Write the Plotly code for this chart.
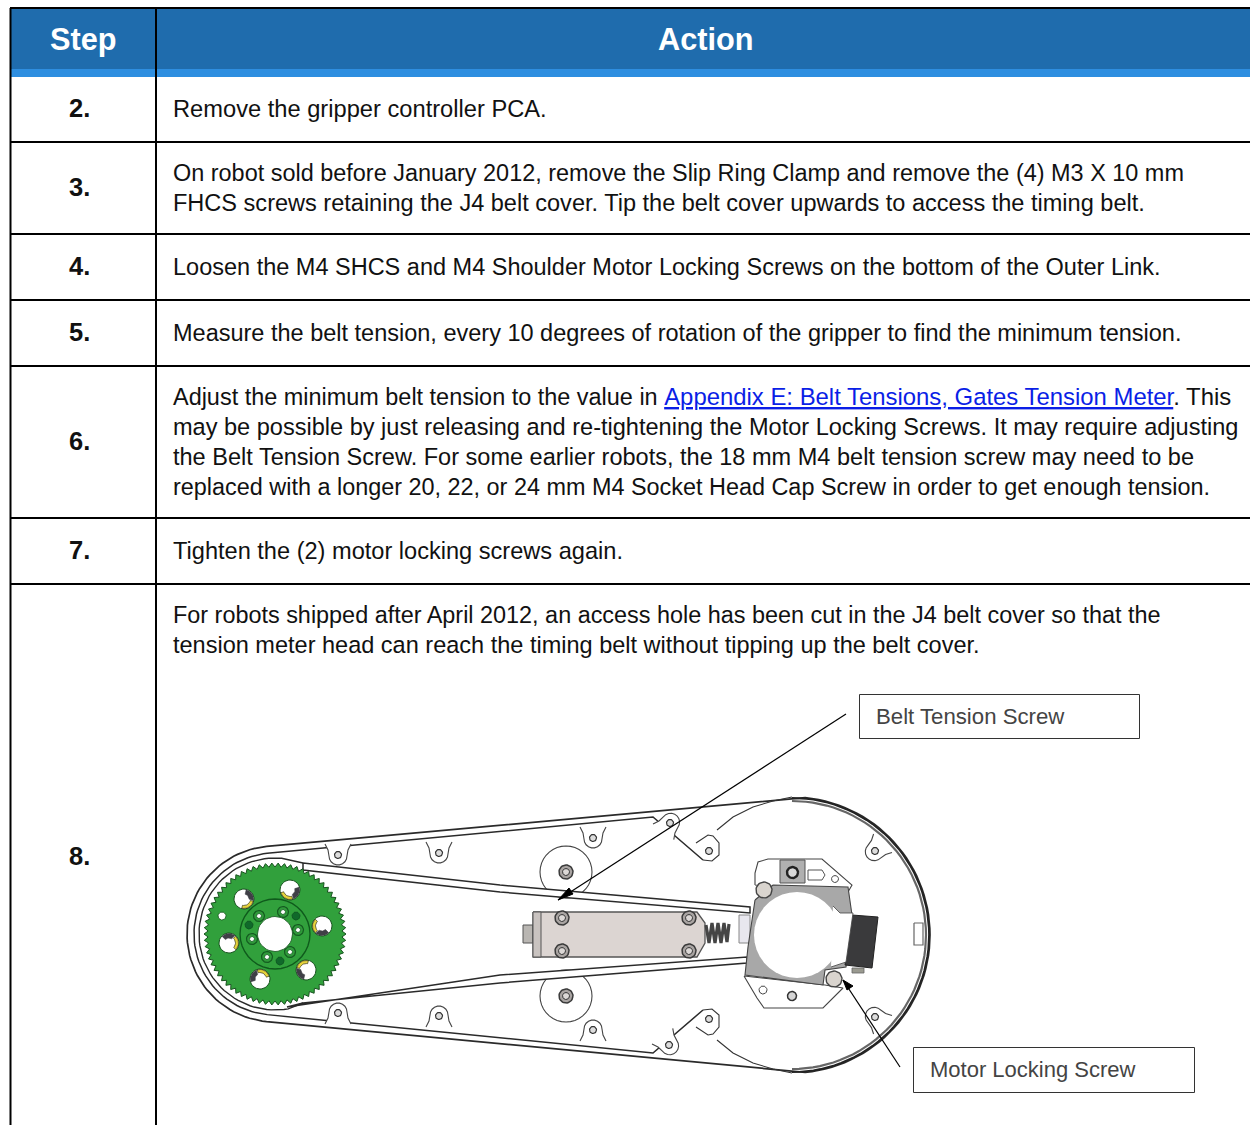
import math
import plotly.graph_objects as go

W, H = 1250, 1125
FONT = "Liberation Sans"

# ---------- table content ----------
header_labels = ["Step", "Action"]
step_labels = ["2.", "3.", "4.", "5.", "6.", "7.", "8."]
step_centres = [108, 187, 266, 332, 441, 550, 856]
row_rules = [142, 234, 300, 366, 518, 584]
action_lines = [
    "Remove the gripper controller PCA.",
    "On robot sold before January 2012, remove the Slip Ring Clamp and remove the (4) M3 X 10 mm",
    "FHCS screws retaining the J4 belt cover. Tip the belt cover upwards to access the timing belt.",
    "Loosen the M4 SHCS and M4 Shoulder Motor Locking Screws on the bottom of the Outer Link.",
    "Measure the belt tension, every 10 degrees of rotation of the gripper to find the minimum tension.",
    '<span style="font-size:23.45px">Adjust the minimum belt tension to the value in </span><span style="color:#0a1ee6"><u>Appendix E: Belt Tensions, Gates Tension Meter</u></span>. This',
    "may be possible by just releasing and re-tightening the Motor Locking Screws. It may require adjusting",
    "the Belt Tension Screw. For some earlier robots, the 18 mm M4 belt tension screw may need to be",
    "replaced with a longer 20, 22, or 24 mm M4 Socket Head Cap Screw in order to get enough tension.",
    "Tighten the (2) motor locking screws again.",
    "For robots shipped after April 2012, an access hole has been cut in the J4 belt cover so that the",
    "tension meter head can reach the timing belt without tipping up the belt cover.",
]
action_line_y = [108.7, 172.7, 202.7, 266.7, 332.7, 396, 426.7, 456.7, 486.7, 550.7, 614.7, 644.7]
action_line_size = [23.68, 23.44, 23.54, 23.5, 23.5, 23.9, 23.56, 23.54, 23.41, 23.58, 23.41, 23.53]
callouts = ["Belt Tension Screw", "Motor Locking Screw"]

# ---------- drawing geometry ----------
gear_holes = [(244, 899), (290, 890), (322, 926), (229, 943), (260, 979), (306, 970)]
gear_bolts = [(259, 916), (283, 912), (298, 930), (290, 952), (267, 957), (252, 939)]
gear_dark = [(296, 916), (249, 925), (280, 961)]
lugs = [(338, 855, 0), (439, 853, 0), (593, 838, 0), (670, 823, 217),
        (875, 851, 45), (338, 1013, 180), (439, 1016, 180), (593, 1030, 180),
        (669, 1045, 323), (875, 1017, 135)]
belt_top = [(303, 863), (500, 885), (750, 907), (750, 913), (500, 892), (303, 870)]
belt_bottom = [(287, 1007), (500, 975), (747, 957), (747, 963), (500, 983), (303, 1003)]
block_outline = [(533, 912), (697, 912), (705, 923), (705, 943), (697, 957), (533, 957)]
block_bolts = [(562, 918), (689, 918), (562, 951), (689, 951)]
plate_outline = [(755, 900), (773, 885), (848, 887), (852, 915), (846, 967), (825, 970),
                 (823, 985), (745, 975), (748, 947)]
top_bracket = [(755, 885), (755, 873), (758, 862), (768, 859), (822, 859), (852, 885), (848, 892)]
bottom_bracket = [(744, 976), (757, 998), (764, 1008), (823, 1008), (843, 988), (825, 985)]
motor_box = [(852, 915), (878, 917), (872, 968), (845, 965)]
spring_x = [706, 709, 712, 715, 718, 721, 724, 727, 729]
spring_y = [925, 943, 923, 943, 923, 943, 923, 942, 924]
ring_shoulder = [(717, 830), (733, 817), (753, 807), (773, 801), (792, 797)]

fig = go.Figure()


def poly(pts, fill=None, line="#222222", width=1.2, close=True):
    xs = [p[0] for p in pts]
    ys = [p[1] for p in pts]
    if close:
        xs, ys = xs + xs[:1], ys + ys[:1]
    fig.add_trace(go.Scatter(
        x=xs, y=ys, mode="lines", hoverinfo="skip", showlegend=False,
        fill="toself" if fill else None, fillcolor=fill,
        line=dict(color=line, width=width, shape="linear"),
    ))


def arc(cx, cy, r, a0, a1, n=60):
    return [(cx + r * math.cos(math.radians(a0 + (a1 - a0) * i / n)),
             cy + r * math.sin(math.radians(a0 + (a1 - a0) * i / n))) for i in range(n + 1)]


def circle(cx, cy, r, fill="#ffffff", line="#222222", width=1.2):
    poly(arc(cx, cy, r, 0, 360, 36)[:-1], fill, line, width)


def bolt(cx, cy, r=7):
    circle(cx, cy, r, "#a9a4a2", "#3a3a3a", 1.5)
    circle(cx, cy, r * 0.5, "#dcd8d6", "#333333", 1)


def mirror(pts, c=935):
    return [(x, 2 * c - y) for x, y in pts]


# ----- belt cover, outer loop -----
outer = arc(275, 934, 88, 264.5, 95.5) + arc(792, 935, 138, 84.5, -84.5)
poly(outer[:], None, "#2a2a2a", 1.7)
inner_top = [(653, 817), (703, 860)]
inner_left = arc(275, 934, 81, 95.5, 264.5)
poly(mirror(inner_top)[::-1] + inner_left + inner_top, None, "#2a2a2a", 1.5, close=False)
poly(arc(792, 935, 134, -90, 90, 60), None, "#666666", 2.2, close=False)
poly(arc(792, 935, 137, -90, 90, 60), None, "#222222", 1.8, close=False)
poly(ring_shoulder, None, "#333333", 1.1, close=False)
poly(mirror(ring_shoulder), None, "#333333", 1.1, close=False)
for sign in (1, -1):
    c = [(703, 860), (712, 861), (719, 855), (719, 843), (713, 836), (708, 835), (696, 843)]
    poly(c if sign == 1 else mirror(c), None, "#333333", 1.1, close=False)
    circle(709, 935 + sign * -84, 3.5, "#dddddd", "#333333", 1.2)

# ----- lugs -----
for cx, cy, rot in lugs:
    t = math.radians(rot)
    shape = [(-13, -11), (-10, -5)] + [(9 * math.cos(math.radians(a)), 9 * math.sin(math.radians(a)) + 1)
                                       for a in range(180, -1, -20)] + [(10, -5), (13, -11)]
    pts = [(cx + x * math.cos(t) - y * math.sin(t), cy + x * math.sin(t) + y * math.cos(t)) for x, y in shape]
    poly(pts, "#ffffff", "#444444", 1.1, close=False)
    circle(cx, cy, 3.5, "#dddddd", "#333333", 1.2)

# ----- idler pulleys -----
for cy in (872, 996):
    circle(566, cy, 26, "#ffffff", "#444444", 1.1)
    bolt(566, cy, 7)

# ----- timing belt -----
poly(belt_top, "#ffffff", "#2a2a2a", 1.5)
poly(belt_bottom, "#ffffff", "#2a2a2a", 1.5)
poly([(303, 1003)] + arc(275, 934, 76, 80, 275) + [(303, 863)], None, "#2a2a2a", 1.4, close=False)

# ----- gear -----
teeth = []
for i in range(140):
    a = 2 * math.pi * i / 140
    r = 71 if i % 2 == 0 else 67
    teeth.append((275 + r * math.cos(a), 934 + r * math.sin(a)))
poly(teeth, "#31a03c", "#17521e", 1)
circle(275, 934, 35, "#31a03c", "#0f5a1c", 1.4)
for hx, hy in gear_holes:
    circle(hx, hy, 10, "#ffffff", "#17521e", 1)
    a = math.degrees(math.atan2(hy - 934, hx - 275))
    # yellow wear band on the side facing the hub, dark wedge next to it
    outer_arc = arc(hx, hy, 9.5, a + 145, a + 235, 12)
    inner_arc = arc(hx, hy, 6.5, a + 235, a + 145, 12)
    poly(outer_arc + inner_arc, "#e6d23c", "#3a3a1a", 0.7)
    dark_outer = arc(hx, hy, 9.5, a + 55, a + 140, 12)
    dark_inner = arc(hx, hy, 5, a + 140, a + 55, 12)
    poly(dark_outer + dark_inner, "#3f3f46", "#3f3f46", 0.6)
for hx, hy in gear_bolts:
    circle(hx, hy, 5.5, "#2f9a3a", "#145a20", 1.2)
    circle(hx, hy, 2.5, "#ffffff", "#145a20", 0.8)
for hx, hy in gear_dark:
    circle(hx, hy, 4, "#10692a", "#0d4f20", 0.8)
circle(222, 916, 4, "#ffffff", "#17521e", 0.8)
circle(275, 934, 17.5, "#ffffff", "#17521e", 0.8)

# ----- tensioner block -----
poly([(523, 925), (533, 925), (533, 943), (523, 943)], "#b9b6b2", "#555555", 1)
poly(block_outline, "#dcd5d2", "#555555", 1.3)
poly([(533, 912), (541, 912), (541, 957), (533, 957)], "#c9c3c0", "#555555", 1)
for bx, by in block_bolts:
    bolt(bx, by, 7)
fig.add_trace(go.Scatter(x=spring_x, y=spring_y, mode="lines", hoverinfo="skip", showlegend=False,
                         line=dict(color="#454545", width=3.2)))
poly([(739, 915), (750, 915), (750, 943), (739, 943)], "#e8e7ee", "#888888", 1)

# ----- motor plate -----
poly(top_bracket, "#ffffff", "#444444", 1.1)
poly(bottom_bracket, "#ffffff", "#444444", 1.1)
poly(plate_outline, "#a8a8a8", "#444444", 1.1)
poly(motor_box, "#3a3a3c", "#222222", 1)
poly([(852, 968), (864, 968), (864, 973), (852, 973)], "#9a9a90", "#666666", 0.8)
circle(797, 935, 43, "#ffffff", None, 0)
poly([(833, 906), (840, 913), (853, 913), (846, 962), (831, 967)], "#ffffff", "#444444", 0.8, close=False)
poly([(780, 860), (805, 860), (805, 883), (780, 883)], "#b0b0b0", "#555555", 1)
circle(792.5, 872.5, 5.5, "#d9d9d9", "#222222", 2.4)
poly([(808, 870), (822, 870), (825, 875), (822, 880), (808, 880)], "#ffffff", "#555555", 1)
circle(835, 879, 3.5, "#ffffff", "#444444", 1)
circle(764, 890, 8, "#d9d4ce", "#444444", 1.4)
circle(834, 979, 8, "#d9d4ce", "#444444", 1.4)
circle(763, 990, 4, "#ffffff", "#444444", 1)
circle(792, 996, 4.5, "#d6d6d6", "#333333", 1.5)
poly([(914, 923), (923, 923), (923, 945), (914, 945)], "#ffffff", "#666666", 1.2)

# ----- callout leaders and boxes -----
poly([(846, 714), (558, 900)], None, "#000000", 1.2, close=False)
poly([(558, 900), (569, 888), (573, 894)], "#000000", "#000000", 1)
poly([(900, 1067), (843, 980)], None, "#000000", 1.2, close=False)
poly([(843, 980), (853, 986), (847, 990)], "#000000", "#000000", 1)

shapes = []


def rect(x0, y0, x1, y1, fill=None, line=None, lw=0):
    shapes.append(dict(type="rect", xref="x", yref="y", x0=x0, y0=y0, x1=x1, y1=y1,
                       fillcolor=fill or "rgba(0,0,0,0)",
                       line=dict(color=line or "rgba(0,0,0,0)", width=lw), layer="above"))


def hline(x0, x1, y):
    shapes.append(dict(type="line", xref="x", yref="y", x0=x0, x1=x1, y0=y, y1=y,
                       line=dict(color="#000000", width=2), layer="above"))


def vline(x, y0, y1):
    shapes.append(dict(type="line", xref="x", yref="y", x0=x, x1=x, y0=y0, y1=y1,
                       line=dict(color="#000000", width=2), layer="above"))


rect(10, 8, W, 69, "#1f6cad")
rect(10, 69, W, 77, "#2e8ee0")
hline(10, W, 8)
vline(10.5, 8, H)
vline(156, 8, H)
for y in row_rules:
    hline(10, W, y)
rect(859.5, 694.5, 1139.5, 738.5, "#ffffff", "#333333", 1)
rect(913.5, 1047.5, 1194.5, 1092.5, "#ffffff", "#333333", 1)

ann = []


def text(x, y, s, size, color="#111111", anchor="left", bold=False, font=FONT):
    ann.append(dict(x=x, y=y, xref="x", yref="y", text=f"<b>{s}</b>" if bold else s, showarrow=False,
                    xanchor=anchor, yanchor="middle", align=anchor,
                    font=dict(family=font, size=size, color=color)))


text(83, 39, header_labels[0], 30.7, "#ffffff", "center", True)
text(705.5, 39, header_labels[1], 30.7, "#ffffff", "center", True)
for lab, y in zip(step_labels, step_centres):
    text(79.5, y, lab, 25.5, "#111111", "center", True)
for line, y, size in zip(action_lines, action_line_y, action_line_size):
    text(171, y, line, size)
text(874, 716.5, callouts[0], 22.2, "#444444")
text(928, 1069.5, callouts[1], 22, "#444444")

fig.update_layout(
    width=W, height=H, margin=dict(l=0, r=0, t=0, b=0), autosize=False,
    paper_bgcolor="#ffffff", plot_bgcolor="#ffffff", showlegend=False,
    xaxis=dict(range=[0, W], visible=False, fixedrange=True),
    yaxis=dict(range=[H, 0], visible=False, fixedrange=True),
    shapes=shapes, annotations=ann,
)
fig.write_html("out.html", config={"displayModeBar": False},
               post_script="document.body.style.margin='0';document.body.style.overflow='hidden';")
